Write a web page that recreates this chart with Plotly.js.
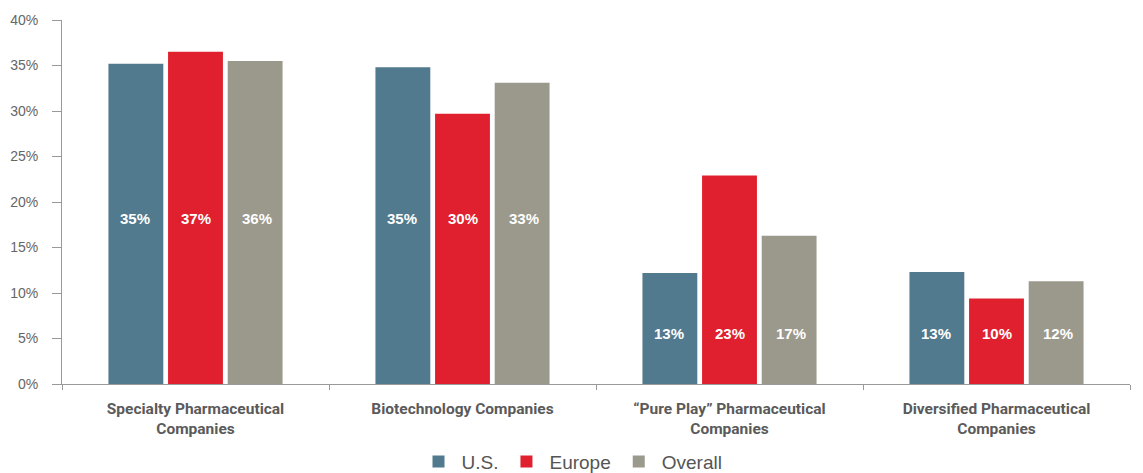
<!DOCTYPE html>
<html>
<head>
<meta charset="utf-8">
<script src="https://cdn.plot.ly/plotly-3.0.1.min.js"></script>
<style>html,body{margin:0;padding:0;background:#fff;}#chart{width:1143px;height:473px;}</style>
</head>
<body>
<div id="chart"></div>
<script>
const categories = ["Specialty Pharmaceutical<br>Companies", "Biotechnology Companies", "\u201cPure Play\u201d Pharmaceutical<br>Companies", "Diversified Pharmaceutical<br>Companies"];
const seriesNames = ["U.S.", "Europe", "Overall"];
const usValues = [0.352, 0.348, 0.122, 0.123];
const europeValues = [0.365, 0.297, 0.229, 0.094];
const overallValues = [0.355, 0.331, 0.163, 0.113];
const usLabels = ["35%", "35%", "13%", "13%"];
const europeLabels = ["37%", "30%", "23%", "10%"];
const overallLabels = ["36%", "33%", "17%", "12%"];
const labelHeights = [0.182, 0.182, 0.056, 0.056];
const colors = ["#527a8e", "#e0202e", "#9b998c"];

const values = [usValues, europeValues, overallValues];
const labels = [usLabels, europeLabels, overallLabels];

const traces = values.map((v, i) => ({
  type: 'bar', name: seriesNames[i], x: categories, y: v,
  marker: {color: colors[i]}, hoverinfo: 'skip'
}));

const annotations = [];
const shifts = [-61, 0, 61];
labels.forEach((arr, s) => {
  arr.forEach((t, c) => {
    annotations.push({
      x: categories[c], y: labelHeights[c], xref: 'x', yref: 'y',
      text: '<b>' + t + '</b>', showarrow: false, xshift: shifts[s],
      font: {family: 'Liberation Sans, Arial, sans-serif', size: 15, color: '#ffffff'}
    });
  });
});

const layout = {
  width: 1143, height: 473,
  margin: {l: 62, r: 13, t: 20, b: 89},
  paper_bgcolor: '#fff', plot_bgcolor: '#fff',
  barmode: 'group', bargap: 0.33, bargroupgap: 0.08,
  showlegend: true,
  legend: {orientation: 'h', x: 0.5, xanchor: 'center', xref: 'container',
    y: 0.024, yanchor: 'middle', yref: 'container',
    font: {family: 'Liberation Sans, Arial, sans-serif', size: 19, color: '#555'},
    itemwidth: 36, traceorder: 'normal'},
  xaxis: {
    automargin: false,
    showline: true, linecolor: '#999', linewidth: 1,
    ticks: 'outside', tickson: 'boundaries', ticklen: 5, tickcolor: '#999',
    ticklabelstandoff: 10,
    tickfont: {family: 'Roboto, Liberation Sans, sans-serif', size: 15.5, color: '#5a5a5a', weight: 700},
    showgrid: false, zeroline: false
  },
  yaxis: {
    automargin: false,
    range: [0, 0.4], dtick: 0.05, tickformat: '.0%',
    showline: true, linecolor: '#999', linewidth: 1,
    ticks: 'outside', ticklen: 9, tickcolor: '#999',
    ticklabelstandoff: 11,
    tickfont: {family: 'Liberation Sans, Arial, sans-serif', size: 14, color: '#666'},
    showgrid: false, zeroline: false
  },
  annotations: annotations
};

Plotly.newPlot('chart', traces, layout, {displayModeBar: false, staticPlot: true});
</script>
</body>
</html>
